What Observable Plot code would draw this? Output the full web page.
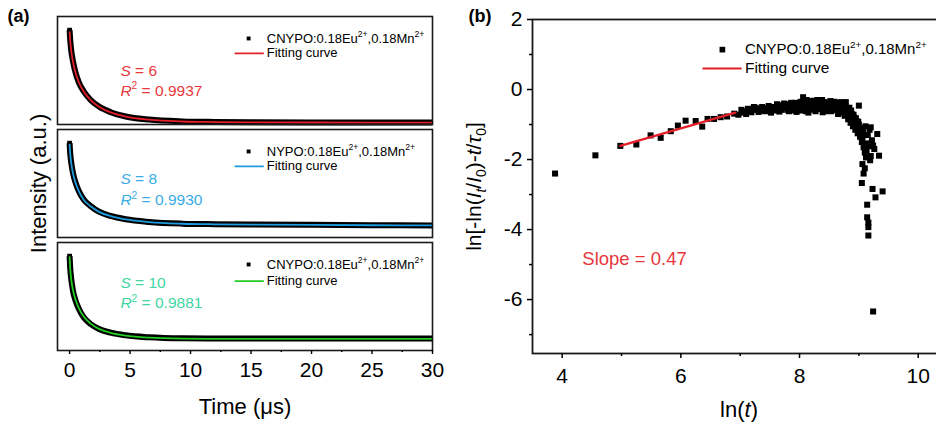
<!DOCTYPE html>
<html><head><meta charset="utf-8">
<script src="https://cdn.jsdelivr.net/npm/d3@7"></script>
<script src="https://cdn.jsdelivr.net/npm/@observablehq/plot@0.6"></script>
<style>
html,body{margin:0;padding:0;background:#fff;overflow:hidden;}
#fig{position:relative;width:936px;height:432px;overflow:hidden;background:#fff;}
#fig svg{position:absolute;top:0;max-width:none;}
</style></head><body><div id="fig"></div>
<script>
// ---------- Panel (a): decay curves (normalized intensity) ----------
const decayTime = [0, 0.05, 0.14, 0.28, 0.5, 0.77, 1.18, 1.74, 2.43, 3.4, 4.64, 6.57, 9.3, 12, 15, 20, 25, 30];
const cnypoAData = [1.0, 0.90, 0.78, 0.67, 0.545, 0.445, 0.35, 0.26, 0.19, 0.13, 0.085, 0.052, 0.033, 0.027, 0.024, 0.021, 0.02, 0.02];
const cnypoAFit  = [0.98, 0.89, 0.775, 0.665, 0.545, 0.445, 0.348, 0.258, 0.188, 0.128, 0.084, 0.051, 0.032, 0.026, 0.023, 0.021, 0.02, 0.02];
const nypoData   = [1.0, 0.895, 0.79, 0.684, 0.579, 0.49, 0.40, 0.333, 0.274, 0.228, 0.193, 0.165, 0.147, 0.141, 0.138, 0.134, 0.13, 0.128];
const nypoFit    = [0.985, 0.89, 0.785, 0.68, 0.577, 0.488, 0.398, 0.331, 0.272, 0.226, 0.191, 0.163, 0.146, 0.140, 0.137, 0.133, 0.13, 0.128];
const cnypoCData = [1.0, 0.877, 0.755, 0.632, 0.526, 0.439, 0.35, 0.281, 0.228, 0.189, 0.161, 0.14, 0.129, 0.127, 0.126, 0.126, 0.126, 0.126];
const cnypoCFit  = [0.99, 0.87, 0.75, 0.64, 0.535, 0.447, 0.357, 0.285, 0.229, 0.187, 0.157, 0.136, 0.126, 0.124, 0.123, 0.123, 0.123, 0.123];
const sampleLabels = ["CNYPO:0.18Eu^{2+},0.18Mn^{2+}", "NYPO:0.18Eu^{2+},0.18Mn^{2+}", "CNYPO:0.18Eu^{2+},0.18Mn^{2+}"];
const sLabels = ["*S* = 6", "*S* = 8", "*S* = 10"];
const r2Labels = ["*R*^{2} = 0.9937", "*R*^{2} = 0.9930", "*R*^{2} = 0.9881"];
const timeTicks = [0, 5, 10, 15, 20, 25, 30];
const timeMinor = [2.5, 7.5, 12.5, 17.5, 22.5, 27.5];

// ---------- Panel (b): ln[-ln(It/I0)-t/tau0] vs ln(t) ----------
const lnT = [3.88, 4.56, 4.98, 5.25, 5.49, 5.66, 5.83, 5.95, 6.08, 6.25, 6.36, 6.45, 6.56, 6.67, 6.78, 6.90, 6.97, 7.04, 7.10, 7.16,
  7.23, 7.28, 7.34, 7.40, 7.45, 7.50, 7.55, 7.60, 7.64, 7.68, 7.72, 7.76, 7.80, 7.84, 7.87, 7.90, 7.93, 7.96, 7.99, 8.02,
  8.06, 8.08, 8.11, 8.13, 8.16, 8.19, 8.22, 8.25, 8.28, 8.30, 8.33, 8.36, 8.39, 8.42, 8.45, 8.48, 8.50, 8.53, 8.56, 8.59,
  8.62, 8.65, 8.68, 8.71, 8.74, 8.76, 8.78, 8.80, 8.82, 8.84, 8.86, 8.88, 8.90, 8.92, 8.94, 8.96, 8.98, 9.00, 9.00, 9.02,
  9.04, 9.05, 9.06, 9.07, 9.08, 9.08, 9.10, 9.05, 9.12, 9.12, 9.14, 9.14, 9.15, 9.16, 9.16, 9.16, 9.18, 9.20, 9.20, 9.22,
  9.23, 9.24, 9.26, 9.28, 9.31, 9.34, 9.40,
  7.02, 7.08, 7.13, 7.19, 7.26, 7.31, 7.37, 7.42, 7.48, 7.52, 7.58, 7.62, 7.66, 7.70, 7.74, 7.78, 7.82, 7.86, 7.89, 7.92,
  7.95, 7.98, 8.01, 8.04, 8.07, 8.10, 8.12, 8.15, 8.18, 8.21, 8.24, 8.27, 8.29, 8.32, 8.35, 8.38, 8.41, 8.44, 8.47, 8.49,
  8.52, 8.55, 8.58, 8.61, 8.64, 8.67, 8.70, 8.73, 8.75, 8.77, 8.79, 8.81, 8.83, 8.85, 8.87, 8.89, 8.91, 8.93, 8.95, 8.97,
  8.99, 9.01, 9.03, 9.06, 9.09, 9.11, 9.13, 9.17, 9.19, 9.10, 9.24];
const lnY = [-2.40, -1.88, -1.61, -1.57, -1.31, -1.38, -1.19, -1.03, -0.89, -0.90, -1.06, -0.84, -0.84, -0.79, -0.77, -0.69, -0.72, -0.66, -0.70, -0.60,
  -0.50, -0.58, -0.55, -0.60, -0.53, -0.58, -0.50, -0.56, -0.48, -0.55, -0.45, -0.52, -0.58, -0.42, -0.50, -0.60, -0.38, -0.47, -0.55, -0.35,
  -0.22, -0.45, -0.62, -0.38, -0.50, -0.33, -0.44, -0.58, -0.40, -0.30, -0.50, -0.42, -0.65, -0.36, -0.48, -0.55, -0.40, -0.62, -0.45, -0.35,
  -0.52, -0.70, -0.42, -0.58, -0.48, -0.75, -0.36, -0.62, -0.85, -0.52, -0.95, -0.70, -1.05, -0.80, -1.15, -0.90, -1.25, -0.46, -1.00, -1.35,
  -1.10, -1.50, -2.13, -1.20, -1.65, -2.40, -1.80, -2.67, -1.54, -1.94, -3.29, -3.65, -1.30, -3.80, -3.93, -4.17, -1.15, -1.08, -1.90, -1.45,
  -2.84, -6.34, -1.70, -3.08, -1.27, -1.89, -2.91,
  -0.58, -0.62, -0.55, -0.65, -0.52, -0.64, -0.50, -0.62, -0.47, -0.66, -0.60, -0.42, -0.63, -0.58, -0.40, -0.47, -0.62, -0.38, -0.56, -0.45,
  -0.64, -0.40, -0.50, -0.60, -0.36, -0.52, -0.30, -0.66, -0.42, -0.56, -0.32, -0.62, -0.46, -0.36, -0.56, -0.30, -0.52, -0.62, -0.38, -0.48,
  -0.33, -0.58, -0.50, -0.38, -0.60, -0.50, -0.36, -0.66, -0.55, -0.44, -0.72, -0.55, -0.68, -0.80, -0.60, -0.88, -0.72, -0.98, -0.82, -1.08,
  -0.92, -1.18, -1.28, -1.40, -1.30, -1.05, -1.75, -1.62, -2.02, -2.25, -1.60];
const fitLnT = [4.98, 6.92];
const fitLnY = [-1.61, -0.66];
const yTicksB = [-6, -4, -2, 0, 2];
const yMinorB = [-7, -5, -3, -1, 1];
const xTicksB = [4, 6, 8, 10];
const xMinorB = [5, 7, 9];

const FONT = '"Liberation Sans", Arial, Helvetica, sans-serif';
const fig = document.getElementById("fig");

function richify(svg) {
  d3.select(svg).selectAll("text").each(function () {
    const s = this.textContent;
    if (!/\^\{|_\{|\*/.test(s)) return;
    const fs = parseFloat(getComputedStyle(this).fontSize) || 16;
    const segs = []; let buf = "", it = false, mode = 0;
    const flush = () => { if (buf) segs.push({t: buf, it, mode}); buf = ""; };
    for (let i = 0; i < s.length; i++) {
      const c = s[i];
      if (c === "*") { flush(); it = !it; }
      else if ((c === "^" || c === "_") && s[i + 1] === "{") { flush(); mode = c === "^" ? 1 : -1; i++; }
      else if (c === "}" && mode) { flush(); mode = 0; }
      else buf += c;
    }
    flush();
    this.textContent = "";
    let cur = 0;
    for (const g of segs) {
      const target = g.mode === 1 ? -0.4 * fs : g.mode === -1 ? 0.25 * fs : 0;
      const ts = d3.select(this).append("tspan").text(g.t);
      if (target !== cur) ts.attr("dy", target - cur);
      cur = target;
      if (g.mode) ts.attr("font-size", 0.66 * fs);
      if (g.it) ts.attr("font-style", "italic");
    }
  });
}
function place(svg, left) { svg.style.left = left + "px"; fig.appendChild(svg); richify(svg); }

const boxH = 108, yMax = 1.145;
const boxes = [
  {top: 16, data: cnypoAData, fit: cnypoAFit, line: "#e3202a", txt: "#e8373d", sY: 0.57, rY: 0.36, lineY: 0.755},
  {top: 129, data: nypoData, fit: nypoFit, line: "#1e9bdc", txt: "#39ace6", sY: 0.625, rY: 0.40, lineY: 0.755},
  {top: 242, data: cnypoCData, fit: cnypoCFit, line: "#22cc22", txt: "#3fd6a2", sY: 0.72, rY: 0.50, lineY: 0.735}
];

boxes.forEach((b, i) => {
  const pts = decayTime.map((t, k) => ({t, v: b.data[k], f: b.fit[k]}));
  const last = i === 2;
  const marks = [
    Plot.line(pts, {x: "t", y: "v", stroke: "#000", strokeWidth: 6, curve: "monotone-x", strokeLinecap: "butt"}),
    Plot.dot(pts.slice(0, 3), {x: "t", y: "v", symbol: "square", r: 2.7, fill: "#000"}),
    Plot.line(pts, {x: "t", y: "f", stroke: b.line, strokeWidth: 1.8, curve: "monotone-x"}),
    Plot.frame({stroke: "#1a1a1a", strokeWidth: 1.6}),
    // legend
    Plot.dot([0], {x: () => 14.8, y: () => 0.912, symbol: "square", r: 2.2, fill: "#000"}),
    Plot.line([13.7, 16.0], {x: d => d, y: () => b.lineY, stroke: b.line, strokeWidth: 1.8}),
    Plot.text([sampleLabels[i]], {x: () => 16.3, y: () => 0.912, text: d => d, textAnchor: "start", lineAnchor: "middle", fontSize: 13, fill: "#000"}),
    Plot.text(["Fitting curve"], {x: () => 16.3, y: () => b.lineY, text: d => d, textAnchor: "start", lineAnchor: "middle", fontSize: 13, fill: "#000"}),
    // annotation
    Plot.text([sLabels[i]], {x: () => 4.2, y: () => b.sY, text: d => d, textAnchor: "start", lineAnchor: "middle", fontSize: 15.5, fill: b.txt}),
    Plot.text([r2Labels[i]], {x: () => 4.2, y: () => b.rY, text: d => d, textAnchor: "start", lineAnchor: "middle", fontSize: 15.5, fill: b.txt})
  ];
  if (i === 0) marks.push(Plot.text(["(a)"], {frameAnchor: "top-left", text: d => d, dx: -50, dy: 0, textAnchor: "start", lineAnchor: "middle", fontSize: 18, fontWeight: "bold", fill: "#000"}));
  if (i === 1) marks.push(Plot.text(["Intensity (a.u.)"], {frameAnchor: "left", text: d => d, dx: -19, rotate: -90, textAnchor: "middle", lineAnchor: "middle", fontSize: 22, fill: "#000"}));
  if (last) {
    marks.push(
      Plot.axisX({ticks: timeTicks, tickSize: 4, tickPadding: 8, fontSize: 21, strokeWidth: 1.4, tickFormat: d => String(d), label: null}),
      Plot.axisX({ticks: timeMinor, tickSize: 2, strokeWidth: 1.4, tickFormat: () => "", label: null}),
      Plot.text(["Time (μs)"], {frameAnchor: "bottom", text: d => d, dy: 63, textAnchor: "middle", lineAnchor: "bottom", fontSize: 22, fill: "#000"})
    );
  }
  const svg = Plot.plot({
    width: 440, height: 432,
    marginLeft: 57, marginRight: 8, marginTop: b.top, marginBottom: 432 - b.top - boxH,
    x: {domain: [-1, 30], label: null, ...(last ? {} : {axis: null})},
    y: {domain: [0, yMax], axis: null, label: null},
    style: {fontFamily: FONT, fontSize: "21px", background: "transparent", overflow: "visible", color: "#000"},
    marks
  });
  place(svg, 0);
});

// panel b
const ptsB = lnT.map((x, k) => ({x, y: lnY[k]}));
const fitB = fitLnT.map((x, k) => ({x, y: fitLnY[k]}));
const svgB = Plot.plot({
  width: 520, height: 432,
  marginLeft: 92, marginRight: 15, marginTop: 19, marginBottom: 79,
  x: {domain: [3.5, 10.46], label: null},
  y: {domain: [-7.54, 2], label: null},
  style: {fontFamily: FONT, fontSize: "21px", background: "transparent", overflow: "visible", color: "#000"},
  marks: [
    Plot.frame({stroke: "#1a1a1a", strokeWidth: 1.8}),
    Plot.axisY({ticks: yTicksB, tickSize: 5, tickPadding: 5, fontSize: 21, strokeWidth: 1.5, tickFormat: d => String(d), label: null}),
    Plot.axisY({ticks: yMinorB, tickSize: 3, strokeWidth: 1.5, tickFormat: () => "", label: null}),
    Plot.axisX({ticks: xTicksB, tickSize: 5, tickPadding: 10, fontSize: 21, strokeWidth: 1.5, tickFormat: d => String(d), label: null}),
    Plot.axisX({ticks: xMinorB, tickSize: 3, strokeWidth: 1.5, tickFormat: () => "", label: null}),
    Plot.dot(ptsB, {x: "x", y: "y", symbol: "square", r: 3.4, fill: "#000"}),
    Plot.line(fitB, {x: "x", y: "y", stroke: "#e3202a", strokeWidth: 2.2}),
    // legend
    Plot.dot([0], {x: () => 6.70, y: () => 1.14, symbol: "square", r: 3.2, fill: "#000"}),
    Plot.line([6.38, 7.01], {x: d => d, y: () => 0.60, stroke: "#e3202a", strokeWidth: 2.2}),
    Plot.text(["CNYPO:0.18Eu^{2+},0.18Mn^{2+}"], {x: () => 7.08, y: () => 1.14, text: d => d, textAnchor: "start", lineAnchor: "middle", fontSize: 15, fill: "#000"}),
    Plot.text(["Fitting curve"], {x: () => 7.08, y: () => 0.60, text: d => d, textAnchor: "start", lineAnchor: "middle", fontSize: 15.5, fill: "#000"}),
    Plot.text(["Slope = 0.47"], {x: () => 4.34, y: () => -4.83, text: d => d, textAnchor: "start", lineAnchor: "middle", fontSize: 18.5, fill: "#e8373d"}),
    Plot.text(["(b)"], {frameAnchor: "top-left", text: d => d, dx: -64, dy: -3, textAnchor: "start", lineAnchor: "middle", fontSize: 18, fontWeight: "bold", fill: "#000"}),
    Plot.text(["ln[-ln(*I*_{*t*}/*I*_{0})-*t*/*τ*_{0}]"], {frameAnchor: "left", text: d => d, dx: -58, rotate: -90, textAnchor: "middle", lineAnchor: "middle", fontSize: 21, fill: "#000"}),
    Plot.text(["ln(*t*)"], {frameAnchor: "bottom", text: d => d, dy: 63, textAnchor: "middle", lineAnchor: "bottom", fontSize: 22, fill: "#000"})
  ]
});
place(svgB, 440);
</script></body></html>
